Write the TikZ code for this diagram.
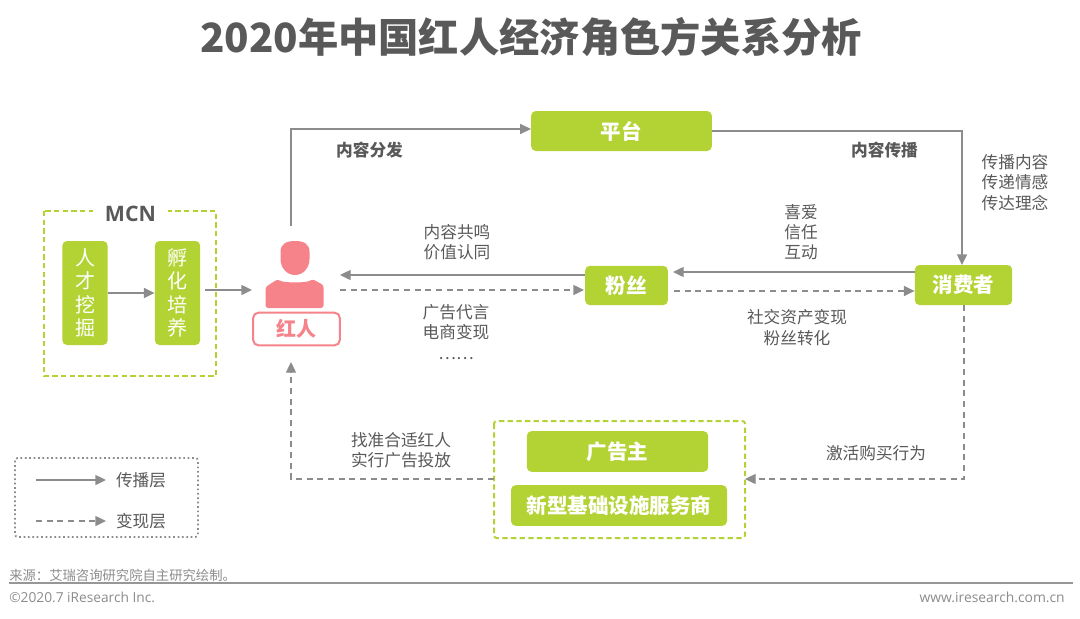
\documentclass[tikz,border=0pt]{standalone}
\usepackage{fontspec}
\setmainfont{Noto Sans CJK SC}
\newfontfamily\latinfont{Open Sans}
\usetikzlibrary{calc,arrows.meta}
\definecolor{leaf}{HTML}{B3D335}
\definecolor{rose}{HTML}{F58389}
\definecolor{ash}{HTML}{8C8C8C}
\definecolor{ink}{HTML}{595959}
\tikzset{
	greenbox/.style={fill=leaf, rounded corners=3.5pt, text=white, font=\fontsize{15.4}{17}\selectfont\bfseries, inner sep=0pt, align=center},
	tallbox/.style={fill=leaf, rounded corners=3.5pt, text=white, font=\fontsize{15}{17.6}\selectfont, inner sep=0pt, align=center},
	solidflow/.style={draw=ash, line width=1pt, -{Triangle[length=8pt,width=7.5pt]}},
	cashflow/.style={draw=ash, line width=1pt, dash pattern=on 4.5pt off 3.5pt, -{Triangle[length=8pt,width=7.5pt]}},
	groupbox/.style={draw=leaf, line width=1.5pt, dash pattern=on 4pt off 2.5pt},
	note/.style={text=ink, font=\fontsize{12.5}{15.2}\selectfont, align=center, inner sep=0pt},
	boldnote/.style={text=ink, font=\fontsize{12.5}{14}\selectfont\bfseries, inner sep=0pt},
}
\begin{document}
\begin{tikzpicture}[x=0.75pt, y=-0.75pt]
			%%%%% START %%%%%
			\useasboundingbox (0, 0) rectangle (1080, 618);
			\fill[white] (0, 0) rectangle (1080, 618);
			
			\node[text=ink, font=\fontsize{30.2}{34}\selectfont\bfseries, inner sep=0pt] (title) at (531, 37) {2020年中国红人经济角色方关系分析};
			
			% MCN
			\draw[groupbox] (44, 211) rectangle (216, 376);
			\node[fill=white, text=ink, font=\latinfont\fontsize{16}{18}\selectfont\bfseries, inner xsep=9pt, inner ysep=1pt] (mcn) at (130.5, 214) {MCN};
			\node[tallbox, minimum width=34pt, minimum height=78pt] (talent) at (85, 293) {人\\才\\挖\\掘};
			\node[tallbox, minimum width=34pt, minimum height=78pt] (incubate) at (177.5, 293) {孵\\化\\培\\养};
			
			% person
			\fill[rose] (280.5, 252) .. controls (280.5, 244) and (286, 241) .. (295, 241) .. controls (304, 241) and (309.5, 244) .. (309.5, 252) -- (309.5, 259) .. controls (309.5, 268) and (303, 275) .. (295, 275) .. controls (287, 275) and (280.5, 268) .. (280.5, 259) -- cycle;
			\fill[rose, rounded corners=2pt] (265.5, 287) -- (278, 279) .. controls (283, 283) and (307, 283) .. (312, 279) -- (323.5, 285) -- (323.5, 308) -- (265.5, 308) -- cycle;
			\coordinate (personw) at (252, 290);
			\node[draw=rose, line width=1.5pt, rounded corners=4pt, minimum width=65pt, minimum height=24.5pt, text=rose, font=\fontsize{15}{18}\selectfont\bfseries, inner sep=0pt] (star) at (296.5, 329) {红人};
			
			% main boxes
			\node[greenbox, minimum width=135.5pt, minimum height=30pt] (platform) at (621.5, 131) {平台};
			\node[greenbox, minimum width=62pt, minimum height=29.5pt] (fans) at (626.5, 285.5) {粉丝};
			\node[greenbox, minimum width=73pt, minimum height=30pt] (consumer) at (963.5, 285) {消费者};
			
			\draw[groupbox, rounded corners=2pt] (494, 421) rectangle (745, 538);
			\node[greenbox, minimum width=136pt, minimum height=30.5pt] (advertiser) at (617.5, 451.5) {广告主};
			\node[greenbox, minimum width=162pt, minimum height=30.5pt] (service) at (619, 505.5) {新型基础设施服务商};
			
			% free ends
			\coordinate (mcnout) at (205, 290);
			\coordinate (starup) at (291, 226);
			\coordinate (stardown) at (291, 362);
			\coordinate (starin) at (340, 275);
			\coordinate (starout) at (340, 290);
			\coordinate (fansoutr) at (584, 290);
			\coordinate (fansr) at (673, 272);
			\coordinate (fansrd) at (674, 291);
			\coordinate (groupe) at (745, 479);
			\coordinate (groupw) at (494, 479);
			
			% connectors
			\draw[solidflow] (talent.east |- 0, 293) -- (incubate.west |- 0, 293);
			\draw[solidflow] (mcnout) -- (personw);
			\draw[solidflow] (starup) |- (platform.west |- 0, 129);
			\draw[solidflow] (platform.east) -| (962, 265);
			\draw[solidflow] (fans.west |- starin) -- (starin);
			\draw[cashflow] (starout) -- (fansoutr);
			\draw[solidflow] (consumer.west |- fansr) -- (fansr);
			\draw[cashflow] (fansrd) -- (consumer.west |- fansrd);
			\draw[cashflow] (964, 305) |- (groupe);
			\draw[cashflow] (groupw) -| (stardown);
			
			% labels
			\node[boldnote] (share) at (369.5, 150) {内容分发};
			\node[boldnote] (spread) at (884.5, 150) {内容传播};
			\node[note] (spreadnote) at (1015, 182.5) {传播内容\\传递情感\\传达理念};
			\node[note] (lovenote) at (801, 232) {喜爱\\信任\\互动};
			\node[note] (valuenote) at (457, 242) {内容共鸣\\价值认同};
			\node[note] (cashnote) at (456, 332) {广告代言\\电商变现\\……};
			\node[note] (assetnote) at (797, 327.5) {社交资产变现\\粉丝转化};
			\node[note] (findnote) at (401, 450.5) {找准合适红人\\实行广告投放};
			\node[note] (buynote) at (876, 453) {激活购买行为};
			
			% legend
			\draw[draw=ash, line width=1.3pt, dotted, rounded corners=2pt] (15, 458) rectangle (198, 537);
			\coordinate (legsolida) at (36, 480);
			\coordinate (legsolidb) at (106, 480);
			\coordinate (legdasha) at (36, 521);
			\coordinate (legdashb) at (106, 521);
			\draw[solidflow] (legsolida) -- (legsolidb);
			\draw[cashflow] (legdasha) -- (legdashb);
			\node[note] (legsolid) at (141, 480.5) {传播层};
			\node[note] (legdash) at (141, 521.5) {变现层};
			
			% footer
			\coordinate (rulea) at (9, 583);
			\coordinate (ruleb) at (1073, 583);
			\draw[draw=ash!90, line width=1.3pt] (rulea) -- (ruleb);
			\node[anchor=west, text=ash, font=\fontsize{10}{12}\selectfont, inner sep=0pt] (source) at (9, 575) {来源：艾瑞咨询研究院自主研究绘制。};
			\node[anchor=west, text=ash, font=\latinfont\fontsize{10.3}{12}\selectfont, inner sep=0pt] (copyright) at (9, 597) {©2020.7 iResearch Inc.};
			\node[anchor=east, text=ash, font=\latinfont\fontsize{10.4}{12}\selectfont, inner sep=0pt] (site) at (1065, 597) {www.iresearch.com.cn};
			%%%%% END %%%%%
\end{tikzpicture}
\end{document}
